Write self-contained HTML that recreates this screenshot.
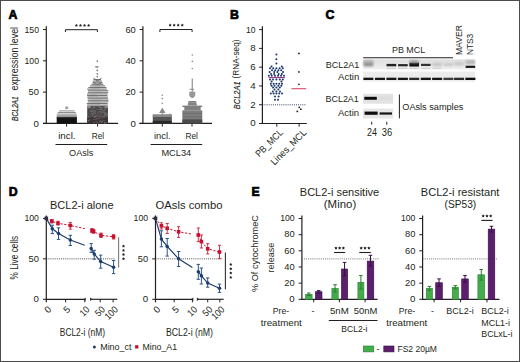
<!DOCTYPE html><html><head><meta charset="utf-8"><style>html,body{margin:0;padding:0;background:#fff;}svg{display:block;}text{font-family:"Liberation Sans", sans-serif;fill:#231f20;}</style></head><body>
<svg width="520" height="362" viewBox="0 0 520 362">
<defs><filter id="bl" x="-20%" y="-100%" width="140%" height="300%"><feGaussianBlur stdDeviation="0.55"/></filter><filter id="bl2" x="-30%" y="-100%" width="160%" height="300%"><feGaussianBlur stdDeviation="1.1"/></filter><filter id="bl3" x="-5%" y="-5%" width="110%" height="110%"><feGaussianBlur stdDeviation="0.35"/></filter></defs>
<rect x="0.00" y="0.00" width="520.00" height="362.00" fill="#fff" />
<text x="8.6" y="18.8" font-size="12.3" font-weight="bold" fill="#000" stroke="#000" stroke-width="0.7" style="fill:#000">A</text>
<text x="230.0" y="18.8" font-size="12.3" font-weight="bold" fill="#000" stroke="#000" stroke-width="0.7" style="fill:#000">B</text>
<text x="325.6" y="18.8" font-size="12.3" font-weight="bold" fill="#000" stroke="#000" stroke-width="0.7" style="fill:#000">C</text>
<text x="8.7" y="195.5" font-size="12.3" font-weight="bold" fill="#000" stroke="#000" stroke-width="0.7" style="fill:#000">D</text>
<text x="251.6" y="195.7" font-size="12.3" font-weight="bold" fill="#000" stroke="#000" stroke-width="0.7" style="fill:#000">E</text>
<line x1="46.3" y1="26.2" x2="46.3" y2="123.9" stroke="#231f20" stroke-width="1.2" />
<line x1="43.0" y1="29.5" x2="46.3" y2="29.5" stroke="#231f20" stroke-width="1" />
<text x="39.0" y="32.60" font-size="9.8" text-anchor="end" textLength="14.50" lengthAdjust="spacingAndGlyphs">150</text>
<line x1="43.0" y1="60.800000000000004" x2="46.3" y2="60.800000000000004" stroke="#231f20" stroke-width="1" />
<text x="39.0" y="63.90" font-size="9.8" text-anchor="end" textLength="14.50" lengthAdjust="spacingAndGlyphs">100</text>
<line x1="43.0" y1="92.10000000000001" x2="46.3" y2="92.10000000000001" stroke="#231f20" stroke-width="1" />
<text x="39.0" y="95.20" font-size="9.8" text-anchor="end" textLength="10.40" lengthAdjust="spacingAndGlyphs">50</text>
<line x1="43.0" y1="123.4" x2="46.3" y2="123.4" stroke="#231f20" stroke-width="1" />
<text x="39.0" y="126.50" font-size="9.8" text-anchor="end" textLength="5.40" lengthAdjust="spacingAndGlyphs">0</text>
<line x1="43.0" y1="123.4" x2="118.1" y2="123.4" stroke="#231f20" stroke-width="1.15" />
<line x1="66.6" y1="123.4" x2="66.6" y2="126.6" stroke="#231f20" stroke-width="1" />
<line x1="97.6" y1="123.4" x2="97.6" y2="126.6" stroke="#231f20" stroke-width="1" />
<text x="66.9" y="138.7" font-size="8.9" text-anchor="middle" textLength="17.4" lengthAdjust="spacingAndGlyphs" >incl.</text>
<text x="97.9" y="138.7" font-size="8.9" text-anchor="middle" textLength="12.4" lengthAdjust="spacingAndGlyphs" >Rel</text>
<line x1="55.5" y1="144.5" x2="107.2" y2="144.5" stroke="#231f20" stroke-width="1" />
<text x="81.2" y="155.7" font-size="9.3" text-anchor="middle" textLength="24.2" lengthAdjust="spacingAndGlyphs" >OAsls</text>
<path d="M65.4,32 V29.7 H97.4 V32" fill="none" stroke="#231f20" stroke-width="1"/>
<polygon points="76.35,23.80 76.87,24.69 77.87,24.91 77.19,25.67 77.29,26.69 76.35,26.28 75.41,26.69 75.51,25.67 74.83,24.91 75.83,24.69" fill="#231f20"/>
<polygon points="80.45,23.80 80.97,24.69 81.97,24.91 81.29,25.67 81.39,26.69 80.45,26.28 79.51,26.69 79.61,25.67 78.93,24.91 79.93,24.69" fill="#231f20"/>
<polygon points="84.55,23.80 85.07,24.69 86.07,24.91 85.39,25.67 85.49,26.69 84.55,26.28 83.61,26.69 83.71,25.67 83.03,24.91 84.03,24.69" fill="#231f20"/>
<polygon points="88.65,23.80 89.17,24.69 90.17,24.91 89.49,25.67 89.59,26.69 88.65,26.28 87.71,26.69 87.81,25.67 87.13,24.91 88.13,24.69" fill="#231f20"/>
<text transform="translate(18.0,120.9) rotate(-90)" font-size="9.4" font-style="italic" textLength="24.6" lengthAdjust="spacingAndGlyphs" stroke="#231f20" stroke-width="0.18">BCL2A1</text>
<text transform="translate(17.9,90.5) rotate(-90)" font-size="10" textLength="63.6" lengthAdjust="spacingAndGlyphs">expression level</text>
<rect x="56.70" y="116.60" width="20.20" height="6.70" fill="#121212" />
<rect x="56.70" y="117.60" width="20.20" height="0.50" fill="#555" />
<rect x="56.70" y="115.20" width="20.20" height="1.00" fill="#8c8c8c" />
<rect x="56.90" y="113.60" width="19.80" height="1.00" fill="#8c8c8c" />
<rect x="57.80" y="112.00" width="18.00" height="1.00" fill="#8c8c8c" />
<rect x="59.00" y="110.40" width="15.60" height="1.00" fill="#8c8c8c" />
<ellipse cx="66.7" cy="107.8" rx="1.7" ry="1.5" fill="#a0a0a0"/>
<rect x="87.20" y="106.00" width="20.80" height="17.30" fill="#4c484a" />
<rect x="87.20" y="117.50" width="20.80" height="5.80" fill="#3e3339" />
<rect x="92.11" y="115.28" width="1.30" height="0.60" fill="#808080" />
<rect x="94.73" y="116.26" width="1.30" height="0.60" fill="#808080" />
<rect x="99.79" y="107.38" width="1.30" height="0.60" fill="#808080" />
<rect x="87.66" y="120.12" width="1.30" height="0.60" fill="#808080" />
<rect x="92.54" y="110.17" width="1.30" height="0.60" fill="#808080" />
<rect x="107.11" y="114.06" width="1.30" height="0.60" fill="#808080" />
<rect x="103.96" y="114.16" width="1.30" height="0.60" fill="#808080" />
<rect x="100.05" y="108.79" width="1.30" height="0.60" fill="#808080" />
<rect x="99.97" y="120.62" width="1.30" height="0.60" fill="#808080" />
<rect x="97.76" y="118.53" width="1.30" height="0.60" fill="#808080" />
<rect x="100.69" y="107.36" width="1.30" height="0.60" fill="#808080" />
<rect x="102.41" y="116.05" width="1.30" height="0.60" fill="#808080" />
<rect x="93.37" y="106.81" width="1.30" height="0.60" fill="#808080" />
<rect x="104.54" y="114.10" width="1.30" height="0.60" fill="#808080" />
<rect x="101.63" y="120.80" width="1.30" height="0.60" fill="#808080" />
<rect x="101.54" y="121.50" width="1.30" height="0.60" fill="#808080" />
<rect x="95.22" y="119.51" width="1.30" height="0.60" fill="#808080" />
<rect x="96.20" y="121.74" width="1.30" height="0.60" fill="#808080" />
<rect x="104.80" y="107.91" width="1.30" height="0.60" fill="#808080" />
<rect x="90.09" y="109.88" width="1.30" height="0.60" fill="#808080" />
<rect x="106.52" y="113.50" width="1.30" height="0.60" fill="#808080" />
<rect x="99.81" y="111.27" width="1.30" height="0.60" fill="#808080" />
<rect x="97.44" y="112.67" width="1.30" height="0.60" fill="#808080" />
<rect x="94.35" y="115.95" width="1.30" height="0.60" fill="#808080" />
<rect x="98.97" y="121.22" width="1.30" height="0.60" fill="#808080" />
<rect x="100.90" y="121.63" width="1.30" height="0.60" fill="#808080" />
<rect x="104.36" y="122.65" width="1.30" height="0.60" fill="#808080" />
<rect x="100.69" y="108.99" width="1.30" height="0.60" fill="#808080" />
<rect x="104.44" y="122.22" width="1.30" height="0.60" fill="#808080" />
<rect x="105.31" y="115.69" width="1.30" height="0.60" fill="#808080" />
<rect x="101.53" y="109.78" width="1.30" height="0.60" fill="#808080" />
<rect x="103.87" y="115.76" width="1.30" height="0.60" fill="#808080" />
<rect x="93.04" y="107.35" width="1.30" height="0.60" fill="#808080" />
<rect x="104.31" y="122.63" width="1.30" height="0.60" fill="#808080" />
<rect x="89.15" y="119.51" width="1.30" height="0.60" fill="#808080" />
<rect x="95.53" y="108.79" width="1.30" height="0.60" fill="#808080" />
<rect x="93.22" y="118.99" width="1.30" height="0.60" fill="#808080" />
<rect x="104.68" y="107.03" width="1.30" height="0.60" fill="#808080" />
<rect x="99.57" y="107.04" width="1.30" height="0.60" fill="#808080" />
<rect x="101.63" y="111.76" width="1.30" height="0.60" fill="#808080" />
<rect x="104.84" y="122.48" width="1.30" height="0.60" fill="#808080" />
<rect x="97.41" y="122.78" width="1.30" height="0.60" fill="#808080" />
<rect x="93.53" y="107.57" width="1.30" height="0.60" fill="#808080" />
<rect x="99.28" y="106.82" width="1.30" height="0.60" fill="#808080" />
<rect x="91.31" y="113.03" width="1.30" height="0.60" fill="#808080" />
<rect x="99.49" y="108.88" width="1.30" height="0.60" fill="#808080" />
<rect x="88.24" y="120.62" width="1.30" height="0.60" fill="#808080" />
<rect x="93.61" y="122.12" width="1.30" height="0.60" fill="#808080" />
<rect x="105.15" y="112.53" width="1.30" height="0.60" fill="#808080" />
<rect x="96.52" y="114.88" width="1.30" height="0.60" fill="#808080" />
<rect x="100.15" y="116.13" width="1.30" height="0.60" fill="#808080" />
<rect x="98.47" y="116.53" width="1.30" height="0.60" fill="#808080" />
<rect x="106.02" y="114.67" width="1.30" height="0.60" fill="#808080" />
<rect x="95.94" y="118.19" width="1.30" height="0.60" fill="#808080" />
<rect x="92.11" y="111.27" width="1.30" height="0.60" fill="#808080" />
<rect x="106.76" y="114.90" width="1.30" height="0.60" fill="#808080" />
<rect x="98.26" y="106.49" width="1.30" height="0.60" fill="#808080" />
<rect x="95.62" y="115.87" width="1.30" height="0.60" fill="#808080" />
<rect x="87.80" y="116.46" width="1.30" height="0.60" fill="#808080" />
<rect x="99.92" y="107.29" width="1.30" height="0.60" fill="#808080" />
<rect x="99.82" y="113.99" width="1.30" height="0.60" fill="#808080" />
<rect x="100.85" y="112.12" width="1.30" height="0.60" fill="#808080" />
<rect x="101.40" y="118.48" width="1.30" height="0.60" fill="#808080" />
<rect x="87.84" y="107.30" width="1.30" height="0.60" fill="#808080" />
<rect x="100.79" y="122.19" width="1.30" height="0.60" fill="#808080" />
<rect x="92.37" y="113.83" width="1.30" height="0.60" fill="#808080" />
<rect x="99.13" y="111.58" width="1.30" height="0.60" fill="#808080" />
<rect x="94.61" y="111.46" width="1.30" height="0.60" fill="#808080" />
<rect x="94.71" y="116.13" width="1.30" height="0.60" fill="#808080" />
<rect x="93.35" y="112.52" width="1.30" height="0.60" fill="#808080" />
<rect x="102.69" y="106.74" width="1.30" height="0.60" fill="#808080" />
<rect x="98.67" y="118.43" width="1.30" height="0.60" fill="#808080" />
<rect x="93.54" y="109.97" width="1.30" height="0.60" fill="#808080" />
<rect x="103.32" y="110.24" width="1.30" height="0.60" fill="#808080" />
<rect x="91.11" y="113.48" width="1.30" height="0.60" fill="#808080" />
<rect x="101.22" y="107.98" width="1.30" height="0.60" fill="#808080" />
<rect x="93.77" y="111.81" width="1.30" height="0.60" fill="#808080" />
<rect x="103.90" y="113.53" width="1.30" height="0.60" fill="#808080" />
<rect x="104.34" y="109.09" width="1.30" height="0.60" fill="#808080" />
<rect x="94.07" y="117.03" width="1.30" height="0.60" fill="#808080" />
<rect x="104.92" y="113.74" width="1.30" height="0.60" fill="#808080" />
<rect x="91.86" y="108.30" width="1.30" height="0.60" fill="#808080" />
<rect x="97.89" y="109.45" width="1.30" height="0.60" fill="#808080" />
<rect x="103.37" y="120.13" width="1.30" height="0.60" fill="#808080" />
<rect x="91.04" y="110.90" width="1.30" height="0.60" fill="#808080" />
<rect x="103.38" y="116.89" width="1.30" height="0.60" fill="#808080" />
<rect x="103.36" y="112.00" width="1.30" height="0.60" fill="#808080" />
<rect x="89.97" y="111.12" width="1.30" height="0.60" fill="#808080" />
<rect x="103.12" y="110.77" width="1.30" height="0.60" fill="#808080" />
<rect x="94.26" y="113.18" width="1.30" height="0.60" fill="#808080" />
<rect x="87.20" y="106.00" width="3.50" height="2.20" fill="#8a8a8a" />
<rect x="104.50" y="106.00" width="3.50" height="2.20" fill="#8a8a8a" />
<rect x="87.10" y="104.60" width="20.80" height="1.05" fill="#727272" />
<rect x="89.33" y="105.65" width="11.98" height="0.50" fill="#a0a0a0" />
<rect x="86.79" y="103.00" width="20.80" height="1.05" fill="#727272" />
<rect x="87.80" y="104.05" width="12.13" height="0.50" fill="#a0a0a0" />
<rect x="87.76" y="101.40" width="20.60" height="1.05" fill="#727272" />
<rect x="91.72" y="102.45" width="8.86" height="0.50" fill="#a0a0a0" />
<rect x="87.74" y="99.80" width="20.80" height="1.05" fill="#727272" />
<rect x="91.52" y="100.85" width="7.63" height="0.50" fill="#a0a0a0" />
<rect x="87.69" y="98.20" width="20.40" height="1.05" fill="#727272" />
<rect x="91.20" y="99.25" width="10.18" height="0.50" fill="#a0a0a0" />
<rect x="87.32" y="96.60" width="20.60" height="1.05" fill="#727272" />
<rect x="89.19" y="97.65" width="8.29" height="0.50" fill="#a0a0a0" />
<rect x="87.07" y="95.00" width="20.40" height="1.05" fill="#727272" />
<rect x="88.28" y="96.05" width="9.72" height="0.50" fill="#a0a0a0" />
<rect x="87.04" y="93.40" width="20.60" height="1.05" fill="#727272" />
<rect x="90.47" y="94.45" width="6.46" height="0.50" fill="#a0a0a0" />
<rect x="87.98" y="91.80" width="20.20" height="1.05" fill="#727272" />
<rect x="91.07" y="92.85" width="11.66" height="0.50" fill="#a0a0a0" />
<rect x="87.88" y="90.20" width="20.40" height="1.05" fill="#727272" />
<rect x="91.57" y="91.25" width="9.65" height="0.50" fill="#a0a0a0" />
<rect x="87.22" y="88.60" width="19.60" height="1.05" fill="#727272" />
<rect x="90.45" y="89.65" width="6.89" height="0.50" fill="#a0a0a0" />
<rect x="88.36" y="87.00" width="18.00" height="1.05" fill="#727272" />
<rect x="91.35" y="88.05" width="8.23" height="0.50" fill="#a0a0a0" />
<rect x="90.00" y="85.40" width="15.00" height="1.05" fill="#727272" />
<rect x="93.81" y="86.45" width="7.25" height="0.50" fill="#a0a0a0" />
<rect x="91.41" y="83.80" width="12.00" height="1.05" fill="#727272" />
<rect x="93.17" y="84.85" width="6.70" height="0.50" fill="#a0a0a0" />
<rect x="92.57" y="82.20" width="10.00" height="1.05" fill="#727272" />
<rect x="95.92" y="83.25" width="4.06" height="0.50" fill="#a0a0a0" />
<rect x="92.74" y="80.60" width="9.00" height="1.05" fill="#727272" />
<rect x="95.34" y="81.65" width="4.91" height="0.50" fill="#a0a0a0" />
<rect x="93.46" y="79.00" width="7.50" height="1.05" fill="#727272" />
<rect x="96.83" y="80.05" width="4.32" height="0.50" fill="#a0a0a0" />
<path d="M93.5,78.2 L97.3,81 L101.5,78.2" fill="none" stroke="#6a6a6a" stroke-width="1"/>
<path d="M93,82.5 L97.3,84.8 L102,82.5" fill="none" stroke="#6a6a6a" stroke-width="1"/>
<circle cx="97.3" cy="61.1" r="0.85" fill="#777"/>
<circle cx="97.3" cy="70.4" r="0.85" fill="#777"/>
<circle cx="97.3" cy="73.8" r="0.85" fill="#777"/>
<circle cx="97.3" cy="76.6" r="0.85" fill="#777"/>
<ellipse cx="96.9" cy="66.8" rx="2" ry="0.9" fill="#888"/>
<line x1="142.9" y1="26.2" x2="142.9" y2="123.9" stroke="#231f20" stroke-width="1.2" />
<line x1="139.6" y1="29.5" x2="142.9" y2="29.5" stroke="#231f20" stroke-width="1" />
<text x="135.79999999999998" y="32.60" font-size="9.8" text-anchor="end" textLength="10.40" lengthAdjust="spacingAndGlyphs">60</text>
<line x1="139.6" y1="60.800000000000004" x2="142.9" y2="60.800000000000004" stroke="#231f20" stroke-width="1" />
<text x="135.79999999999998" y="63.90" font-size="9.8" text-anchor="end" textLength="10.40" lengthAdjust="spacingAndGlyphs">40</text>
<line x1="139.6" y1="92.10000000000001" x2="142.9" y2="92.10000000000001" stroke="#231f20" stroke-width="1" />
<text x="135.79999999999998" y="95.20" font-size="9.8" text-anchor="end" textLength="10.40" lengthAdjust="spacingAndGlyphs">20</text>
<line x1="139.6" y1="123.4" x2="142.9" y2="123.4" stroke="#231f20" stroke-width="1" />
<text x="135.79999999999998" y="126.50" font-size="9.8" text-anchor="end" textLength="5.40" lengthAdjust="spacingAndGlyphs">0</text>
<line x1="139.4" y1="123.4" x2="212" y2="123.4" stroke="#231f20" stroke-width="1.15" />
<line x1="162.3" y1="123.4" x2="162.3" y2="126.6" stroke="#231f20" stroke-width="1" />
<line x1="192.0" y1="123.4" x2="192.0" y2="126.6" stroke="#231f20" stroke-width="1" />
<text x="162.3" y="138.7" font-size="8.9" text-anchor="middle" textLength="16.8" lengthAdjust="spacingAndGlyphs" >incl.</text>
<text x="191.7" y="138.7" font-size="8.9" text-anchor="middle" textLength="12.4" lengthAdjust="spacingAndGlyphs" >Rel</text>
<line x1="150.6" y1="144.5" x2="202.2" y2="144.5" stroke="#231f20" stroke-width="1" />
<text x="176.3" y="155.7" font-size="9.3" text-anchor="middle" textLength="29.8" lengthAdjust="spacingAndGlyphs" >MCL34</text>
<path d="M159.9,32 V29.5 H192.1 V32" fill="none" stroke="#231f20" stroke-width="1"/>
<polygon points="170.12,23.60 170.64,24.49 171.65,24.71 170.96,25.47 171.07,26.49 170.12,26.08 169.18,26.49 169.29,25.47 168.60,24.71 169.61,24.49" fill="#231f20"/>
<polygon points="174.18,23.60 174.69,24.49 175.70,24.71 175.01,25.47 175.12,26.49 174.18,26.08 173.23,26.49 173.34,25.47 172.65,24.71 173.66,24.49" fill="#231f20"/>
<polygon points="178.22,23.60 178.74,24.49 179.75,24.71 179.06,25.47 179.17,26.49 178.22,26.08 177.28,26.49 177.39,25.47 176.70,24.71 177.71,24.49" fill="#231f20"/>
<polygon points="182.28,23.60 182.79,24.49 183.80,24.71 183.11,25.47 183.22,26.49 182.28,26.08 181.33,26.49 181.44,25.47 180.75,24.71 181.76,24.49" fill="#231f20"/>
<rect x="152.80" y="114.60" width="19.00" height="8.70" fill="#555" />
<rect x="152.80" y="114.60" width="19.00" height="2.40" fill="#8a8a8a" />
<rect x="152.80" y="120.80" width="19.00" height="2.50" fill="#2a2a2a" />
<polygon points="159.2,113 165.5,113 162.3,107.4" fill="#8a8a8a"/>
<rect x="161.80" y="113.00" width="1.00" height="2.00" fill="#888" />
<circle cx="162.2" cy="95.2" r="0.8" fill="#888"/>
<circle cx="162.2" cy="98.6" r="0.8" fill="#888"/>
<circle cx="162.2" cy="103.3" r="0.8" fill="#888"/>
<circle cx="169.9" cy="114.2" r="0.7" fill="#888"/>
<rect x="182.40" y="110.40" width="19.80" height="12.90" fill="#6e6e6e" />
<rect x="182.40" y="119.50" width="19.80" height="3.80" fill="#4a4a4a" />
<rect x="182.40" y="111.20" width="19.80" height="0.50" fill="#8c8c8c" />
<rect x="182.40" y="112.60" width="19.80" height="0.50" fill="#8c8c8c" />
<rect x="182.40" y="114.00" width="19.80" height="0.50" fill="#8c8c8c" />
<rect x="182.40" y="115.40" width="19.80" height="0.50" fill="#8c8c8c" />
<rect x="182.40" y="116.80" width="19.80" height="0.50" fill="#8c8c8c" />
<rect x="182.40" y="118.20" width="19.80" height="0.50" fill="#8c8c8c" />
<rect x="182.40" y="105.60" width="19.80" height="1.40" fill="#7c7c7c" />
<path d="M184.3,107 H200.7 V110.4 H184.3 Z" fill="#808080"/>
<path d="M188.5,101.1 H196 L197,105.6 H187.6 Z" fill="#828282"/>
<rect x="188.50" y="102.60" width="8.00" height="0.50" fill="#aaa" />
<path d="M189.3,91.8 H195.2 V95.8 Q192.3,100.2 189.3,95.8 Z" fill="#909090"/>
<rect x="189.30" y="93.60" width="5.90" height="0.50" fill="#b0b0b0" />
<rect x="189.30" y="95.60" width="5.90" height="0.50" fill="#b0b0b0" />
<rect x="189.60" y="88.80" width="4.40" height="1.00" fill="#8a8a8a" />
<rect x="191.70" y="80.00" width="1.10" height="11.80" fill="#8a8a8a" />
<circle cx="192.3" cy="55" r="0.8" fill="#888"/>
<circle cx="192.3" cy="61.4" r="0.8" fill="#888"/>
<circle cx="192.3" cy="68.5" r="0.8" fill="#888"/>
<circle cx="192.3" cy="79.2" r="0.8" fill="#888"/>
<line x1="262.4" y1="26.2" x2="262.4" y2="124.0" stroke="#231f20" stroke-width="1.2" />
<line x1="259.09999999999997" y1="29.599999999999994" x2="262.4" y2="29.599999999999994" stroke="#231f20" stroke-width="1" />
<text x="255.6" y="32.50" font-size="8.6" text-anchor="end" textLength="9.50" lengthAdjust="spacingAndGlyphs">10</text>
<line x1="259.09999999999997" y1="48.379999999999995" x2="262.4" y2="48.379999999999995" stroke="#231f20" stroke-width="1" />
<text x="255.6" y="51.28" font-size="8.6" text-anchor="end" textLength="5.40" lengthAdjust="spacingAndGlyphs">8</text>
<line x1="259.09999999999997" y1="67.16" x2="262.4" y2="67.16" stroke="#231f20" stroke-width="1" />
<text x="255.6" y="70.06" font-size="8.6" text-anchor="end" textLength="5.40" lengthAdjust="spacingAndGlyphs">6</text>
<line x1="259.09999999999997" y1="85.94" x2="262.4" y2="85.94" stroke="#231f20" stroke-width="1" />
<text x="255.6" y="88.84" font-size="8.6" text-anchor="end" textLength="5.40" lengthAdjust="spacingAndGlyphs">4</text>
<line x1="259.09999999999997" y1="104.72" x2="262.4" y2="104.72" stroke="#231f20" stroke-width="1" />
<text x="255.6" y="107.62" font-size="8.6" text-anchor="end" textLength="5.40" lengthAdjust="spacingAndGlyphs">2</text>
<line x1="259.09999999999997" y1="123.5" x2="262.4" y2="123.5" stroke="#231f20" stroke-width="1" />
<text x="255.6" y="126.40" font-size="8.6" text-anchor="end" textLength="5.40" lengthAdjust="spacingAndGlyphs">0</text>
<line x1="261.9" y1="123.5" x2="306.8" y2="123.5" stroke="#231f20" stroke-width="1.15" />
<line x1="276.8" y1="123.5" x2="276.8" y2="126.7" stroke="#231f20" stroke-width="1" />
<line x1="299.1" y1="123.5" x2="299.1" y2="126.7" stroke="#231f20" stroke-width="1" />
<line x1="262.4" y1="104.8" x2="306" y2="104.8" stroke="#2a3550" stroke-width="0.9" stroke-dasharray="1 1.1"/>
<text transform="translate(240.3,109.2) rotate(-90)" font-size="9.4" font-style="italic" textLength="27.8" lengthAdjust="spacingAndGlyphs" stroke="#231f20" stroke-width="0.15">BCL2A1</text>
<text transform="translate(239.4,78.4) rotate(-90)" font-size="9.0" textLength="38.9" lengthAdjust="spacingAndGlyphs">(RNA-seq)</text>
<text transform="translate(283.6,133.2) rotate(-45)" font-size="9.6" text-anchor="end" textLength="34.5" lengthAdjust="spacingAndGlyphs">PB_MCL</text>
<text transform="translate(307.0,133.2) rotate(-45)" font-size="9.6" text-anchor="end" textLength="46" lengthAdjust="spacingAndGlyphs">Lines_MCL</text>
<circle cx="276.4" cy="54.5" r="1.0" fill="#17346e"/>
<circle cx="276.4" cy="59.2" r="1.0" fill="#17346e"/>
<circle cx="276.4" cy="63.6" r="1.0" fill="#17346e"/>
<circle cx="271.5" cy="66.6" r="1.0" fill="#17346e"/>
<circle cx="281.8" cy="66.6" r="1.0" fill="#17346e"/>
<circle cx="270.0" cy="68.3" r="1.0" fill="#17346e"/>
<circle cx="273.2" cy="68.3" r="1.0" fill="#17346e"/>
<circle cx="276.4" cy="68.3" r="1.0" fill="#17346e"/>
<circle cx="279.6" cy="68.3" r="1.0" fill="#17346e"/>
<circle cx="282.8" cy="68.3" r="1.0" fill="#17346e"/>
<circle cx="272.0" cy="70.2" r="1.0" fill="#17346e"/>
<circle cx="275.2" cy="70.2" r="1.0" fill="#17346e"/>
<circle cx="278.4" cy="70.2" r="1.0" fill="#17346e"/>
<circle cx="281.2" cy="70.2" r="1.0" fill="#17346e"/>
<circle cx="269.6" cy="72.0" r="1.0" fill="#17346e"/>
<circle cx="274.2" cy="72.0" r="1.0" fill="#17346e"/>
<circle cx="277.4" cy="72.0" r="1.0" fill="#17346e"/>
<circle cx="283.0" cy="72.0" r="1.0" fill="#17346e"/>
<circle cx="271.0" cy="73.9" r="1.0" fill="#17346e"/>
<circle cx="274.2" cy="73.9" r="1.0" fill="#17346e"/>
<circle cx="278.6" cy="73.9" r="1.0" fill="#17346e"/>
<circle cx="281.8" cy="73.9" r="1.0" fill="#17346e"/>
<circle cx="268.8" cy="75.8" r="1.0" fill="#17346e"/>
<circle cx="271.8" cy="75.8" r="1.0" fill="#17346e"/>
<circle cx="275.0" cy="75.8" r="1.0" fill="#17346e"/>
<circle cx="278.0" cy="75.8" r="1.0" fill="#17346e"/>
<circle cx="281.0" cy="75.8" r="1.0" fill="#17346e"/>
<circle cx="284.0" cy="75.8" r="1.0" fill="#17346e"/>
<circle cx="270.0" cy="79.4" r="1.0" fill="#17346e"/>
<circle cx="273.0" cy="79.4" r="1.0" fill="#17346e"/>
<circle cx="276.4" cy="79.4" r="1.0" fill="#17346e"/>
<circle cx="279.8" cy="79.4" r="1.0" fill="#17346e"/>
<circle cx="282.8" cy="79.4" r="1.0" fill="#17346e"/>
<circle cx="271.6" cy="81.4" r="1.0" fill="#17346e"/>
<circle cx="281.4" cy="81.4" r="1.0" fill="#17346e"/>
<circle cx="270.8" cy="83.8" r="1.0" fill="#17346e"/>
<circle cx="273.6" cy="83.8" r="1.0" fill="#17346e"/>
<circle cx="276.4" cy="83.8" r="1.0" fill="#17346e"/>
<circle cx="279.2" cy="83.8" r="1.0" fill="#17346e"/>
<circle cx="282.0" cy="83.8" r="1.0" fill="#17346e"/>
<circle cx="271.5" cy="85.8" r="1.0" fill="#17346e"/>
<circle cx="274.5" cy="85.8" r="1.0" fill="#17346e"/>
<circle cx="278.3" cy="85.8" r="1.0" fill="#17346e"/>
<circle cx="281.3" cy="85.8" r="1.0" fill="#17346e"/>
<circle cx="273.0" cy="87.6" r="1.0" fill="#17346e"/>
<circle cx="276.4" cy="87.6" r="1.0" fill="#17346e"/>
<circle cx="279.8" cy="87.6" r="1.0" fill="#17346e"/>
<circle cx="274.5" cy="89.4" r="1.0" fill="#17346e"/>
<circle cx="278.3" cy="89.4" r="1.0" fill="#17346e"/>
<circle cx="272.8" cy="91.4" r="1.0" fill="#17346e"/>
<circle cx="276.4" cy="91.4" r="1.0" fill="#17346e"/>
<circle cx="280.0" cy="91.4" r="1.0" fill="#17346e"/>
<circle cx="270.8" cy="93.6" r="1.0" fill="#17346e"/>
<circle cx="273.6" cy="93.6" r="1.0" fill="#17346e"/>
<circle cx="276.4" cy="93.6" r="1.0" fill="#17346e"/>
<circle cx="279.2" cy="93.6" r="1.0" fill="#17346e"/>
<circle cx="282.0" cy="93.6" r="1.0" fill="#17346e"/>
<circle cx="275.0" cy="96.4" r="1.0" fill="#17346e"/>
<circle cx="278.6" cy="96.4" r="1.0" fill="#17346e"/>
<circle cx="275.0" cy="99.7" r="1.0" fill="#17346e"/>
<circle cx="278.0" cy="99.7" r="1.0" fill="#17346e"/>
<line x1="268.6" y1="77.6" x2="284.8" y2="77.6" stroke="#a0307a" stroke-width="1.1" />
<line x1="291.4" y1="88.7" x2="306.2" y2="88.7" stroke="#d84c6c" stroke-width="1.1" />
<circle cx="298.9" cy="53.4" r="0.9" fill="#222"/>
<circle cx="298.9" cy="71.9" r="0.9" fill="#222"/>
<circle cx="298.9" cy="84.3" r="0.9" fill="#222"/>
<circle cx="299.2" cy="107.3" r="0.9" fill="#222"/>
<circle cx="300.9" cy="109.2" r="0.9" fill="#222"/>
<circle cx="297.3" cy="111.4" r="0.9" fill="#222"/>
<text x="392.0" y="52.6" font-size="9.9" textLength="33.2" lengthAdjust="spacingAndGlyphs" >PB MCL</text>
<line x1="363.2" y1="57.8" x2="453" y2="57.8" stroke="#231f20" stroke-width="1.1" />
<text transform="translate(461.6,55.1) rotate(-90)" font-size="9.5" textLength="30.1" lengthAdjust="spacingAndGlyphs">MAVER</text>
<text transform="translate(473.2,55.1) rotate(-90)" font-size="9.5" textLength="21.3" lengthAdjust="spacingAndGlyphs">NTS3</text>
<text x="325.7" y="67.7" font-size="9.5" textLength="33.6" lengthAdjust="spacingAndGlyphs" >BCL2A1</text>
<text x="338.0" y="79.6" font-size="9.3" textLength="21.3" lengthAdjust="spacingAndGlyphs" >Actin</text>
<linearGradient id="g1" x1="0" y1="0" x2="0" y2="1"><stop offset="0" stop-color="#dedede"/><stop offset="0.6" stop-color="#e8e8e8"/><stop offset="1" stop-color="#f1f1f1"/></linearGradient>
<rect x="363.2" y="59.4" width="111.8" height="10.2" fill="url(#g1)" filter="url(#bl3)"/>
<rect x="363.2" y="71.6" width="111.8" height="10.0" fill="#ececec" filter="url(#bl3)"/>
<rect x="363.6" y="61.7" width="9.6" height="4.6" fill="#8e8e8e" filter="url(#bl2)"/>
<rect x="386.6" y="63.89999999999999" width="9.6" height="2.4" fill="#202020" filter="url(#bl)"/>
<rect x="398.1" y="64.10000000000001" width="9.6" height="2.2" fill="#262626" filter="url(#bl)"/>
<rect x="409.40000000000003" y="62.699999999999996" width="9.6" height="3.8" fill="#080808" filter="url(#bl)"/>
<rect x="421.0" y="63.800000000000004" width="9.6" height="2.2" fill="#303030" filter="url(#bl)"/>
<rect x="432.3" y="62.900000000000006" width="9.6" height="3.0" fill="#c2c2c2" filter="url(#bl2)"/>
<rect x="443.6" y="63.199999999999996" width="9.6" height="2.8" fill="#c8c8c8" filter="url(#bl2)"/>
<rect x="454.3" y="62.0" width="9.6" height="3.6" fill="#c9c9c9" filter="url(#bl2)"/>
<rect x="465.6" y="65.7" width="9.6" height="2.2" fill="#151515" filter="url(#bl)"/>
<rect x="409.6" y="60.6" width="9.2" height="2.6" fill="#8a8a8a" filter="url(#bl2)"/>
<rect x="465.8" y="60.4" width="9.2" height="3.6" fill="#b4b4b4" filter="url(#bl2)"/>
<rect x="363.8" y="60.4" width="9.2" height="2.4" fill="#b0b0b0" filter="url(#bl2)"/>
<rect x="386.8" y="67.6" width="9" height="1.4" fill="#d4d4d4" filter="url(#bl)"/>
<rect x="398.3" y="67.6" width="9" height="1.4" fill="#d4d4d4" filter="url(#bl)"/>
<rect x="409.6" y="67.6" width="9" height="1.4" fill="#d4d4d4" filter="url(#bl)"/>
<rect x="421.2" y="67.6" width="9" height="1.4" fill="#d4d4d4" filter="url(#bl)"/>
<rect x="432.5" y="67.6" width="9" height="1.4" fill="#d4d4d4" filter="url(#bl)"/>
<rect x="363.40000000000003" y="77.7" width="10.0" height="2.3" fill="#121212" filter="url(#bl)"/>
<rect x="375.0" y="77.7" width="10.0" height="2.3" fill="#161616" filter="url(#bl)"/>
<rect x="386.40000000000003" y="77.7" width="10.0" height="2.3" fill="#121212" filter="url(#bl)"/>
<rect x="397.90000000000003" y="77.7" width="10.0" height="2.3" fill="#161616" filter="url(#bl)"/>
<rect x="409.20000000000005" y="77.7" width="10.0" height="2.3" fill="#2c2c2c" filter="url(#bl)"/>
<rect x="420.8" y="77.7" width="10.0" height="2.3" fill="#121212" filter="url(#bl)"/>
<rect x="432.1" y="77.7" width="10.0" height="2.3" fill="#161616" filter="url(#bl)"/>
<rect x="443.40000000000003" y="77.7" width="10.0" height="2.3" fill="#3c3c3c" filter="url(#bl)"/>
<rect x="454.1" y="77.7" width="10.0" height="2.3" fill="#2a2a2a" filter="url(#bl)"/>
<rect x="465.40000000000003" y="77.7" width="10.0" height="2.3" fill="#0a0a0a" filter="url(#bl)"/>
<text x="325.5" y="101.8" font-size="9.5" textLength="33.3" lengthAdjust="spacingAndGlyphs" >BCL2A1</text>
<text x="337.9" y="115.7" font-size="9.3" textLength="21.2" lengthAdjust="spacingAndGlyphs" >Actin</text>
<rect x="363.0" y="93.8" width="30.2" height="9.9" fill="#e2e2e2" filter="url(#bl3)"/>
<rect x="363.0" y="108.6" width="30.2" height="9.9" fill="#e6e6e6" filter="url(#bl3)"/>
<rect x="364.3" y="96.8" width="12.5" height="3.0" fill="#0a0a0a" filter="url(#bl)"/>
<rect x="379" y="97" width="12.5" height="2.4" fill="#dadada" filter="url(#bl2)"/>
<rect x="364.6" y="111.6" width="13" height="3.2" fill="#0a0a0a" filter="url(#bl)"/>
<rect x="379.6" y="112.4" width="12.4" height="2.2" fill="#161616" filter="url(#bl)"/>
<line x1="371.7" y1="121.8" x2="371.7" y2="124.7" stroke="#231f20" stroke-width="1" />
<line x1="386.8" y1="121.8" x2="386.8" y2="124.7" stroke="#231f20" stroke-width="1" />
<text x="371.9" y="135.6" font-size="10.2" text-anchor="middle" textLength="10.0" lengthAdjust="spacingAndGlyphs" >24</text>
<text x="386.9" y="135.6" font-size="10.2" text-anchor="middle" textLength="10.4" lengthAdjust="spacingAndGlyphs" >36</text>
<line x1="399.4" y1="94.5" x2="399.4" y2="118.3" stroke="#231f20" stroke-width="1" />
<text x="402.3" y="109.6" font-size="9.6" textLength="61" lengthAdjust="spacingAndGlyphs" >OAsls samples</text>
<line x1="46.3" y1="215.4" x2="46.3" y2="302.3" stroke="#231f20" stroke-width="1.2" />
<line x1="43.0" y1="218.4" x2="46.3" y2="218.4" stroke="#231f20" stroke-width="1" />
<text x="38.9" y="221.40" font-size="9.8" text-anchor="end" textLength="14.50" lengthAdjust="spacingAndGlyphs">100</text>
<line x1="43.0" y1="258.85" x2="46.3" y2="258.85" stroke="#231f20" stroke-width="1" />
<text x="38.9" y="261.85" font-size="9.8" text-anchor="end" textLength="10.40" lengthAdjust="spacingAndGlyphs">50</text>
<line x1="43.0" y1="299.3" x2="46.3" y2="299.3" stroke="#231f20" stroke-width="1" />
<text x="38.9" y="302.30" font-size="9.8" text-anchor="end" textLength="5.40" lengthAdjust="spacingAndGlyphs">0</text>
<line x1="45.8" y1="299.3" x2="84.8" y2="299.3" stroke="#231f20" stroke-width="1.15" />
<line x1="90.6" y1="299.3" x2="117.3" y2="299.3" stroke="#231f20" stroke-width="1.15" />
<polygon points="83.5,299.3 85.7,297.6 85.7,301.0" fill="#231f20"/>
<polygon points="92.3,299.3 90.1,297.6 90.1,301.0" fill="#231f20"/>
<line x1="65.6" y1="299.3" x2="65.6" y2="302.3" stroke="#231f20" stroke-width="1" />
<line x1="84.8" y1="299.3" x2="84.8" y2="302.3" stroke="#231f20" stroke-width="1" />
<line x1="100.2" y1="299.3" x2="100.2" y2="302.3" stroke="#231f20" stroke-width="1" />
<line x1="113.1" y1="299.3" x2="113.1" y2="302.3" stroke="#231f20" stroke-width="1" />
<text x="50.0" y="208.6" font-size="10.2" textLength="63.6" lengthAdjust="spacingAndGlyphs" >BCL2-i alone</text>
<line x1="46.3" y1="258.85" x2="115.4" y2="258.85" stroke="#3a3a3a" stroke-width="0.9" stroke-dasharray="1 1.1"/>
<polyline points="46.3,218.4 51.8,221.2 58.0,223.2 70.3,225.5 84.8,228.6" fill="none" stroke="#c8102e" stroke-width="1" stroke-dasharray="2.2 1.6"/>
<polyline points="92.0,230.6 93.6,231.4 101.0,235.3 113.6,236.8" fill="none" stroke="#c8102e" stroke-width="1" stroke-dasharray="2.2 1.6"/>
<line x1="51.8" y1="219.5" x2="51.8" y2="223" stroke="#c8203a" stroke-width="0.9" />
<line x1="50.199999999999996" y1="219.5" x2="53.4" y2="219.5" stroke="#c8203a" stroke-width="0.9" />
<line x1="50.199999999999996" y1="223" x2="53.4" y2="223" stroke="#c8203a" stroke-width="0.9" />
<line x1="58.0" y1="221.3" x2="58.0" y2="225.1" stroke="#c8203a" stroke-width="0.9" />
<line x1="56.4" y1="221.3" x2="59.6" y2="221.3" stroke="#c8203a" stroke-width="0.9" />
<line x1="56.4" y1="225.1" x2="59.6" y2="225.1" stroke="#c8203a" stroke-width="0.9" />
<line x1="70.3" y1="222.4" x2="70.3" y2="229.2" stroke="#c8203a" stroke-width="0.9" />
<line x1="68.7" y1="222.4" x2="71.89999999999999" y2="222.4" stroke="#c8203a" stroke-width="0.9" />
<line x1="68.7" y1="229.2" x2="71.89999999999999" y2="229.2" stroke="#c8203a" stroke-width="0.9" />
<line x1="92.0" y1="228.6" x2="92.0" y2="232.6" stroke="#c8203a" stroke-width="0.9" />
<line x1="90.4" y1="228.6" x2="93.6" y2="228.6" stroke="#c8203a" stroke-width="0.9" />
<line x1="90.4" y1="232.6" x2="93.6" y2="232.6" stroke="#c8203a" stroke-width="0.9" />
<line x1="93.6" y1="229.4" x2="93.6" y2="233.2" stroke="#c8203a" stroke-width="0.9" />
<line x1="92.0" y1="229.4" x2="95.19999999999999" y2="229.4" stroke="#c8203a" stroke-width="0.9" />
<line x1="92.0" y1="233.2" x2="95.19999999999999" y2="233.2" stroke="#c8203a" stroke-width="0.9" />
<line x1="101.0" y1="233.1" x2="101.0" y2="237.5" stroke="#c8203a" stroke-width="0.9" />
<line x1="99.4" y1="233.1" x2="102.6" y2="233.1" stroke="#c8203a" stroke-width="0.9" />
<line x1="99.4" y1="237.5" x2="102.6" y2="237.5" stroke="#c8203a" stroke-width="0.9" />
<line x1="113.6" y1="234.7" x2="113.6" y2="239.0" stroke="#c8203a" stroke-width="0.9" />
<line x1="112.0" y1="234.7" x2="115.19999999999999" y2="234.7" stroke="#c8203a" stroke-width="0.9" />
<line x1="112.0" y1="239.0" x2="115.19999999999999" y2="239.0" stroke="#c8203a" stroke-width="0.9" />
<rect x="50.00" y="219.40" width="3.60" height="3.60" fill="#c8102e" />
<rect x="56.20" y="221.40" width="3.60" height="3.60" fill="#c8102e" />
<rect x="68.50" y="223.70" width="3.60" height="3.60" fill="#c8102e" />
<rect x="90.20" y="228.80" width="3.60" height="3.60" fill="#c8102e" />
<rect x="91.80" y="229.60" width="3.60" height="3.60" fill="#c8102e" />
<rect x="99.20" y="233.50" width="3.60" height="3.60" fill="#c8102e" />
<rect x="111.80" y="235.00" width="3.60" height="3.60" fill="#c8102e" />
<polyline points="46.3,218.4 52.3,228.8 58.5,233.4 70.3,240.0 84.8,245.2" fill="none" stroke="#1e3d6e" stroke-width="1.2"/>
<polyline points="91.2,248.5 94.2,253.9 100.7,261.6 113.6,267.3" fill="none" stroke="#1e3d6e" stroke-width="1.2"/>
<line x1="52.3" y1="225.2" x2="52.3" y2="233.6" stroke="#2a5488" stroke-width="1.0" />
<line x1="50.599999999999994" y1="225.2" x2="54.0" y2="225.2" stroke="#2a5488" stroke-width="1.0" />
<line x1="50.599999999999994" y1="233.6" x2="54.0" y2="233.6" stroke="#2a5488" stroke-width="1.0" />
<circle cx="52.3" cy="228.8" r="1.75" fill="#1e3d6e"/>
<line x1="58.5" y1="227.8" x2="58.5" y2="239.4" stroke="#2a5488" stroke-width="1.0" />
<line x1="56.8" y1="227.8" x2="60.2" y2="227.8" stroke="#2a5488" stroke-width="1.0" />
<line x1="56.8" y1="239.4" x2="60.2" y2="239.4" stroke="#2a5488" stroke-width="1.0" />
<circle cx="58.5" cy="233.4" r="1.75" fill="#1e3d6e"/>
<line x1="70.3" y1="235.3" x2="70.3" y2="245.5" stroke="#2a5488" stroke-width="1.0" />
<line x1="68.6" y1="235.3" x2="72.0" y2="235.3" stroke="#2a5488" stroke-width="1.0" />
<line x1="68.6" y1="245.5" x2="72.0" y2="245.5" stroke="#2a5488" stroke-width="1.0" />
<circle cx="70.3" cy="240.0" r="1.75" fill="#1e3d6e"/>
<line x1="91.2" y1="243.6" x2="91.2" y2="252.4" stroke="#2a5488" stroke-width="1.0" />
<line x1="89.5" y1="243.6" x2="92.9" y2="243.6" stroke="#2a5488" stroke-width="1.0" />
<line x1="89.5" y1="252.4" x2="92.9" y2="252.4" stroke="#2a5488" stroke-width="1.0" />
<circle cx="91.2" cy="248.5" r="1.75" fill="#1e3d6e"/>
<line x1="94.2" y1="250.3" x2="94.2" y2="259.2" stroke="#2a5488" stroke-width="1.0" />
<line x1="92.5" y1="250.3" x2="95.9" y2="250.3" stroke="#2a5488" stroke-width="1.0" />
<line x1="92.5" y1="259.2" x2="95.9" y2="259.2" stroke="#2a5488" stroke-width="1.0" />
<circle cx="94.2" cy="253.9" r="1.75" fill="#1e3d6e"/>
<line x1="100.7" y1="255.1" x2="100.7" y2="268.2" stroke="#2a5488" stroke-width="1.0" />
<line x1="99.0" y1="255.1" x2="102.4" y2="255.1" stroke="#2a5488" stroke-width="1.0" />
<line x1="99.0" y1="268.2" x2="102.4" y2="268.2" stroke="#2a5488" stroke-width="1.0" />
<circle cx="100.7" cy="261.6" r="1.75" fill="#1e3d6e"/>
<line x1="113.6" y1="260.5" x2="113.6" y2="273.6" stroke="#2a5488" stroke-width="1.0" />
<line x1="111.89999999999999" y1="260.5" x2="115.3" y2="260.5" stroke="#2a5488" stroke-width="1.0" />
<line x1="111.89999999999999" y1="273.6" x2="115.3" y2="273.6" stroke="#2a5488" stroke-width="1.0" />
<circle cx="113.6" cy="267.3" r="1.75" fill="#1e3d6e"/>
<rect x="44.5" y="216.6" width="3.6" height="3.6" fill="#2f2a45"/>
<line x1="118.6" y1="237.2" x2="118.6" y2="267.6" stroke="#7a7a7a" stroke-width="1.1" />
<polygon points="123.50,244.51 124.02,245.40 125.02,245.62 124.34,246.38 124.44,247.41 123.50,246.99 122.56,247.41 122.66,246.38 121.98,245.62 122.98,245.40" fill="#231f20"/>
<polygon points="123.50,248.74 124.02,249.63 125.02,249.84 124.34,250.61 124.44,251.63 123.50,251.22 122.56,251.63 122.66,250.61 121.98,249.84 122.98,249.63" fill="#231f20"/>
<polygon points="123.50,252.96 124.02,253.85 125.02,254.07 124.34,254.83 124.44,255.86 123.50,255.44 122.56,255.86 122.66,254.83 121.98,254.07 122.98,253.85" fill="#231f20"/>
<polygon points="123.50,257.19 124.02,258.08 125.02,258.29 124.34,259.06 124.44,260.08 123.50,259.67 122.56,260.08 122.66,259.06 121.98,258.29 122.98,258.08" fill="#231f20"/>
<text x="59.8" y="336.2" font-size="10.6" textLength="45.2" lengthAdjust="spacingAndGlyphs" >BCL2-i (nM)</text>
<text transform="translate(51.8,310.2) rotate(-45)" font-size="9.6" text-anchor="end" textLength="5.2" lengthAdjust="spacingAndGlyphs">0</text>
<text transform="translate(71.0,310.2) rotate(-45)" font-size="9.6" text-anchor="end" textLength="5.2" lengthAdjust="spacingAndGlyphs">5</text>
<text transform="translate(90.2,310.2) rotate(-45)" font-size="9.6" text-anchor="end" textLength="9.6" lengthAdjust="spacingAndGlyphs">10</text>
<text transform="translate(105.60000000000001,310.2) rotate(-45)" font-size="9.6" text-anchor="end" textLength="9.6" lengthAdjust="spacingAndGlyphs">50</text>
<text transform="translate(118.5,310.2) rotate(-45)" font-size="9.6" text-anchor="end" textLength="14.2" lengthAdjust="spacingAndGlyphs">100</text>
<line x1="155.5" y1="215.4" x2="155.5" y2="302.3" stroke="#231f20" stroke-width="1.2" />
<line x1="152.2" y1="218.4" x2="155.5" y2="218.4" stroke="#231f20" stroke-width="1" />
<text x="148.1" y="221.40" font-size="9.8" text-anchor="end" textLength="14.50" lengthAdjust="spacingAndGlyphs">100</text>
<line x1="152.2" y1="258.85" x2="155.5" y2="258.85" stroke="#231f20" stroke-width="1" />
<text x="148.1" y="261.85" font-size="9.8" text-anchor="end" textLength="10.40" lengthAdjust="spacingAndGlyphs">50</text>
<line x1="152.2" y1="299.3" x2="155.5" y2="299.3" stroke="#231f20" stroke-width="1" />
<text x="148.1" y="302.30" font-size="9.8" text-anchor="end" textLength="5.40" lengthAdjust="spacingAndGlyphs">0</text>
<line x1="155.0" y1="299.3" x2="192.4" y2="299.3" stroke="#231f20" stroke-width="1.15" />
<line x1="197.4" y1="299.3" x2="223.7" y2="299.3" stroke="#231f20" stroke-width="1.15" />
<polygon points="191.10000000000002,299.3 193.3,297.6 193.3,301.0" fill="#231f20"/>
<polygon points="199.1,299.3 196.9,297.6 196.9,301.0" fill="#231f20"/>
<line x1="174.2" y1="299.3" x2="174.2" y2="302.3" stroke="#231f20" stroke-width="1" />
<line x1="192.4" y1="299.3" x2="192.4" y2="302.3" stroke="#231f20" stroke-width="1" />
<line x1="207.7" y1="299.3" x2="207.7" y2="302.3" stroke="#231f20" stroke-width="1" />
<line x1="219.8" y1="299.3" x2="219.8" y2="302.3" stroke="#231f20" stroke-width="1" />
<text x="155.6" y="208.6" font-size="10.2" textLength="66.8" lengthAdjust="spacingAndGlyphs" >OAsls combo</text>
<line x1="155.5" y1="258.85" x2="222.6" y2="258.85" stroke="#3a3a3a" stroke-width="0.9" stroke-dasharray="1 1.1"/>
<polyline points="155.5,218.4 161.4,225.8 167.2,228.3 178.6,231.8 192.4,234.2" fill="none" stroke="#c8102e" stroke-width="1" stroke-dasharray="2.2 1.6"/>
<polyline points="198.3,235.0 201.4,241.6 207.7,248.8 219.5,252.0" fill="none" stroke="#c8102e" stroke-width="1" stroke-dasharray="2.2 1.6"/>
<line x1="161.4" y1="222.8" x2="161.4" y2="229" stroke="#c8203a" stroke-width="0.9" />
<line x1="159.8" y1="222.8" x2="163.0" y2="222.8" stroke="#c8203a" stroke-width="0.9" />
<line x1="159.8" y1="229" x2="163.0" y2="229" stroke="#c8203a" stroke-width="0.9" />
<line x1="167.2" y1="223.5" x2="167.2" y2="233.4" stroke="#c8203a" stroke-width="0.9" />
<line x1="165.6" y1="223.5" x2="168.79999999999998" y2="223.5" stroke="#c8203a" stroke-width="0.9" />
<line x1="165.6" y1="233.4" x2="168.79999999999998" y2="233.4" stroke="#c8203a" stroke-width="0.9" />
<line x1="178.6" y1="226.7" x2="178.6" y2="237.4" stroke="#c8203a" stroke-width="0.9" />
<line x1="177.0" y1="226.7" x2="180.2" y2="226.7" stroke="#c8203a" stroke-width="0.9" />
<line x1="177.0" y1="237.4" x2="180.2" y2="237.4" stroke="#c8203a" stroke-width="0.9" />
<line x1="198.3" y1="228" x2="198.3" y2="241.6" stroke="#c8203a" stroke-width="0.9" />
<line x1="196.70000000000002" y1="228" x2="199.9" y2="228" stroke="#c8203a" stroke-width="0.9" />
<line x1="196.70000000000002" y1="241.6" x2="199.9" y2="241.6" stroke="#c8203a" stroke-width="0.9" />
<line x1="201.4" y1="235" x2="201.4" y2="248" stroke="#c8203a" stroke-width="0.9" />
<line x1="199.8" y1="235" x2="203.0" y2="235" stroke="#c8203a" stroke-width="0.9" />
<line x1="199.8" y1="248" x2="203.0" y2="248" stroke="#c8203a" stroke-width="0.9" />
<line x1="207.7" y1="243.7" x2="207.7" y2="254" stroke="#c8203a" stroke-width="0.9" />
<line x1="206.1" y1="243.7" x2="209.29999999999998" y2="243.7" stroke="#c8203a" stroke-width="0.9" />
<line x1="206.1" y1="254" x2="209.29999999999998" y2="254" stroke="#c8203a" stroke-width="0.9" />
<line x1="219.5" y1="245.3" x2="219.5" y2="258.6" stroke="#c8203a" stroke-width="0.9" />
<line x1="217.9" y1="245.3" x2="221.1" y2="245.3" stroke="#c8203a" stroke-width="0.9" />
<line x1="217.9" y1="258.6" x2="221.1" y2="258.6" stroke="#c8203a" stroke-width="0.9" />
<rect x="159.60" y="224.00" width="3.60" height="3.60" fill="#c8102e" />
<rect x="165.40" y="226.50" width="3.60" height="3.60" fill="#c8102e" />
<rect x="176.80" y="230.00" width="3.60" height="3.60" fill="#c8102e" />
<rect x="196.50" y="233.20" width="3.60" height="3.60" fill="#c8102e" />
<rect x="199.60" y="239.80" width="3.60" height="3.60" fill="#c8102e" />
<rect x="205.90" y="247.00" width="3.60" height="3.60" fill="#c8102e" />
<rect x="217.70" y="250.20" width="3.60" height="3.60" fill="#c8102e" />
<polyline points="155.5,218.4 161.4,239.1 167.2,246.4 178.6,258.8 192.4,267.5" fill="none" stroke="#1e3d6e" stroke-width="1.2"/>
<polyline points="198.3,271.7 201.4,275.8 207.7,283.1 219.5,288.3" fill="none" stroke="#1e3d6e" stroke-width="1.2"/>
<line x1="161.4" y1="230.8" x2="161.4" y2="246.8" stroke="#2a5488" stroke-width="1.0" />
<line x1="159.70000000000002" y1="230.8" x2="163.1" y2="230.8" stroke="#2a5488" stroke-width="1.0" />
<line x1="159.70000000000002" y1="246.8" x2="163.1" y2="246.8" stroke="#2a5488" stroke-width="1.0" />
<circle cx="161.4" cy="239.1" r="1.75" fill="#1e3d6e"/>
<line x1="167.2" y1="238.5" x2="167.2" y2="256.1" stroke="#2a5488" stroke-width="1.0" />
<line x1="165.5" y1="238.5" x2="168.89999999999998" y2="238.5" stroke="#2a5488" stroke-width="1.0" />
<line x1="165.5" y1="256.1" x2="168.89999999999998" y2="256.1" stroke="#2a5488" stroke-width="1.0" />
<circle cx="167.2" cy="246.4" r="1.75" fill="#1e3d6e"/>
<line x1="178.6" y1="251.5" x2="178.6" y2="266.5" stroke="#2a5488" stroke-width="1.0" />
<line x1="176.9" y1="251.5" x2="180.29999999999998" y2="251.5" stroke="#2a5488" stroke-width="1.0" />
<line x1="176.9" y1="266.5" x2="180.29999999999998" y2="266.5" stroke="#2a5488" stroke-width="1.0" />
<circle cx="178.6" cy="258.8" r="1.75" fill="#1e3d6e"/>
<line x1="198.3" y1="264.4" x2="198.3" y2="279.3" stroke="#2a5488" stroke-width="1.0" />
<line x1="196.60000000000002" y1="264.4" x2="200.0" y2="264.4" stroke="#2a5488" stroke-width="1.0" />
<line x1="196.60000000000002" y1="279.3" x2="200.0" y2="279.3" stroke="#2a5488" stroke-width="1.0" />
<circle cx="198.3" cy="271.7" r="1.75" fill="#1e3d6e"/>
<line x1="201.4" y1="268" x2="201.4" y2="284" stroke="#2a5488" stroke-width="1.0" />
<line x1="199.70000000000002" y1="268" x2="203.1" y2="268" stroke="#2a5488" stroke-width="1.0" />
<line x1="199.70000000000002" y1="284" x2="203.1" y2="284" stroke="#2a5488" stroke-width="1.0" />
<circle cx="201.4" cy="275.8" r="1.75" fill="#1e3d6e"/>
<line x1="207.7" y1="277.9" x2="207.7" y2="287.2" stroke="#2a5488" stroke-width="1.0" />
<line x1="206.0" y1="277.9" x2="209.39999999999998" y2="277.9" stroke="#2a5488" stroke-width="1.0" />
<line x1="206.0" y1="287.2" x2="209.39999999999998" y2="287.2" stroke="#2a5488" stroke-width="1.0" />
<circle cx="207.7" cy="283.1" r="1.75" fill="#1e3d6e"/>
<line x1="219.5" y1="284.1" x2="219.5" y2="292.4" stroke="#2a5488" stroke-width="1.0" />
<line x1="217.8" y1="284.1" x2="221.2" y2="284.1" stroke="#2a5488" stroke-width="1.0" />
<line x1="217.8" y1="292.4" x2="221.2" y2="292.4" stroke="#2a5488" stroke-width="1.0" />
<circle cx="219.5" cy="288.3" r="1.75" fill="#1e3d6e"/>
<rect x="153.7" y="216.6" width="3.6" height="3.6" fill="#2f2a45"/>
<line x1="225.4" y1="252.6" x2="225.4" y2="289.2" stroke="#333" stroke-width="1.1" />
<polygon points="230.80,262.85 231.32,263.74 232.32,263.96 231.64,264.72 231.74,265.74 230.80,265.33 229.86,265.74 229.96,264.72 229.28,263.96 230.28,263.74" fill="#231f20"/>
<polygon points="230.80,267.15 231.32,268.04 232.32,268.26 231.64,269.02 231.74,270.04 230.80,269.63 229.86,270.04 229.96,269.02 229.28,268.26 230.28,268.04" fill="#231f20"/>
<polygon points="230.80,271.45 231.32,272.34 232.32,272.56 231.64,273.32 231.74,274.34 230.80,273.93 229.86,274.34 229.96,273.32 229.28,272.56 230.28,272.34" fill="#231f20"/>
<polygon points="230.80,275.75 231.32,276.64 232.32,276.86 231.64,277.62 231.74,278.64 230.80,278.23 229.86,278.64 229.96,277.62 229.28,276.86 230.28,276.64" fill="#231f20"/>
<text x="166.0" y="336.2" font-size="10.6" textLength="47.0" lengthAdjust="spacingAndGlyphs" >BCL2-i (nM)</text>
<text transform="translate(161.0,310.2) rotate(-45)" font-size="9.6" text-anchor="end" textLength="5.2" lengthAdjust="spacingAndGlyphs">0</text>
<text transform="translate(179.6,310.2) rotate(-45)" font-size="9.6" text-anchor="end" textLength="5.2" lengthAdjust="spacingAndGlyphs">5</text>
<text transform="translate(197.8,310.2) rotate(-45)" font-size="9.6" text-anchor="end" textLength="9.6" lengthAdjust="spacingAndGlyphs">10</text>
<text transform="translate(213.1,310.2) rotate(-45)" font-size="9.6" text-anchor="end" textLength="9.6" lengthAdjust="spacingAndGlyphs">50</text>
<text transform="translate(225.20000000000002,310.2) rotate(-45)" font-size="9.6" text-anchor="end" textLength="14.2" lengthAdjust="spacingAndGlyphs">100</text>
<text transform="translate(18,279.5) rotate(-90)" font-size="11.3" textLength="43.7" lengthAdjust="spacingAndGlyphs">% Live cells</text>
<circle cx="94.4" cy="346.9" r="1.5" fill="#1e3d6e"/>
<text x="100.2" y="349.6" font-size="9.0" textLength="31.3" lengthAdjust="spacingAndGlyphs" >Mino_ct</text>
<rect x="135.10" y="345.20" width="3.30" height="3.30" fill="#c8102e" />
<text x="142.5" y="349.6" font-size="9.0" textLength="34.6" lengthAdjust="spacingAndGlyphs" >Mino_A1</text>
<line x1="301.9" y1="215.6" x2="301.9" y2="299.8" stroke="#231f20" stroke-width="1.2" />
<line x1="298.59999999999997" y1="218.5" x2="301.9" y2="218.5" stroke="#231f20" stroke-width="1" />
<text x="294.7" y="221.20" font-size="9.0" text-anchor="end" textLength="14.50" lengthAdjust="spacingAndGlyphs">100</text>
<line x1="298.59999999999997" y1="234.66" x2="301.9" y2="234.66" stroke="#231f20" stroke-width="1" />
<text x="294.7" y="237.36" font-size="9.0" text-anchor="end" textLength="10.40" lengthAdjust="spacingAndGlyphs">80</text>
<line x1="298.59999999999997" y1="250.82" x2="301.9" y2="250.82" stroke="#231f20" stroke-width="1" />
<text x="294.7" y="253.52" font-size="9.0" text-anchor="end" textLength="10.40" lengthAdjust="spacingAndGlyphs">60</text>
<line x1="298.59999999999997" y1="266.98" x2="301.9" y2="266.98" stroke="#231f20" stroke-width="1" />
<text x="294.7" y="269.68" font-size="9.0" text-anchor="end" textLength="10.40" lengthAdjust="spacingAndGlyphs">40</text>
<line x1="298.59999999999997" y1="283.14" x2="301.9" y2="283.14" stroke="#231f20" stroke-width="1" />
<text x="294.7" y="285.84" font-size="9.0" text-anchor="end" textLength="10.40" lengthAdjust="spacingAndGlyphs">20</text>
<line x1="298.59999999999997" y1="299.3" x2="301.9" y2="299.3" stroke="#231f20" stroke-width="1" />
<text x="294.7" y="302.00" font-size="9.0" text-anchor="end" textLength="5.40" lengthAdjust="spacingAndGlyphs">0</text>
<line x1="301.4" y1="299.3" x2="377.6" y2="299.3" stroke="#231f20" stroke-width="1.15" />
<line x1="313.7" y1="299.3" x2="313.7" y2="302.3" stroke="#231f20" stroke-width="1" />
<line x1="339.4" y1="299.3" x2="339.4" y2="302.3" stroke="#231f20" stroke-width="1" />
<line x1="365.1" y1="299.3" x2="365.1" y2="302.3" stroke="#231f20" stroke-width="1" />
<line x1="301.9" y1="258.9" x2="378.5" y2="258.9" stroke="#666" stroke-width="0.9" stroke-dasharray="1 1.1"/>
<rect x="305.5" y="294.3" width="6.60" height="5.00" fill="#42ad4a" stroke="#2b7d33" stroke-width="0.6"/>
<line x1="308.8" y1="293.0" x2="308.8" y2="295.5" stroke="#2b7d33" stroke-width="1.0" />
<line x1="307.0" y1="293.0" x2="310.6" y2="293.0" stroke="#2b7d33" stroke-width="1.0" />
<line x1="307.0" y1="295.5" x2="310.6" y2="295.5" stroke="#2b7d33" stroke-width="1.0" />
<rect x="315.4" y="291.7" width="6.60" height="7.60" fill="#5c1f6e" stroke="#3a0d48" stroke-width="0.6"/>
<line x1="318.7" y1="290.6" x2="318.7" y2="292.8" stroke="#3a0d48" stroke-width="1.0" />
<line x1="316.9" y1="290.6" x2="320.5" y2="290.6" stroke="#3a0d48" stroke-width="1.0" />
<line x1="316.9" y1="292.8" x2="320.5" y2="292.8" stroke="#3a0d48" stroke-width="1.0" />
<rect x="331.9" y="288.4" width="6.30" height="10.90" fill="#42ad4a" stroke="#2b7d33" stroke-width="0.6"/>
<line x1="335.04999999999995" y1="284.7" x2="335.04999999999995" y2="292.0" stroke="#2b7d33" stroke-width="1.0" />
<line x1="333.24999999999994" y1="284.7" x2="336.84999999999997" y2="284.7" stroke="#2b7d33" stroke-width="1.0" />
<line x1="333.24999999999994" y1="292.0" x2="336.84999999999997" y2="292.0" stroke="#2b7d33" stroke-width="1.0" />
<rect x="341.4" y="269.0" width="6.30" height="30.30" fill="#5c1f6e" stroke="#3a0d48" stroke-width="0.6"/>
<line x1="344.54999999999995" y1="262.4" x2="344.54999999999995" y2="275.6" stroke="#3a0d48" stroke-width="1.0" />
<line x1="342.74999999999994" y1="262.4" x2="346.34999999999997" y2="262.4" stroke="#3a0d48" stroke-width="1.0" />
<line x1="342.74999999999994" y1="275.6" x2="346.34999999999997" y2="275.6" stroke="#3a0d48" stroke-width="1.0" />
<rect x="357.9" y="282.3" width="6.00" height="17.00" fill="#42ad4a" stroke="#2b7d33" stroke-width="0.6"/>
<line x1="360.9" y1="275.6" x2="360.9" y2="289.0" stroke="#2b7d33" stroke-width="1.0" />
<line x1="359.09999999999997" y1="275.6" x2="362.7" y2="275.6" stroke="#2b7d33" stroke-width="1.0" />
<line x1="359.09999999999997" y1="289.0" x2="362.7" y2="289.0" stroke="#2b7d33" stroke-width="1.0" />
<rect x="367.2" y="261.1" width="6.60" height="38.20" fill="#5c1f6e" stroke="#3a0d48" stroke-width="0.6"/>
<line x1="370.5" y1="255.3" x2="370.5" y2="266.0" stroke="#3a0d48" stroke-width="1.0" />
<line x1="368.7" y1="255.3" x2="372.3" y2="255.3" stroke="#3a0d48" stroke-width="1.0" />
<line x1="368.7" y1="266.0" x2="372.3" y2="266.0" stroke="#3a0d48" stroke-width="1.0" />
<text x="299.8" y="195.5" font-size="10.2" textLength="79.4" lengthAdjust="spacingAndGlyphs" >BCL2-i sensitive</text>
<text x="323.8" y="208" font-size="10.2" textLength="32.4" lengthAdjust="spacingAndGlyphs" >(Mino)</text>
<line x1="334.1" y1="252.5" x2="345.2" y2="252.5" stroke="#231f20" stroke-width="1.1" />
<polygon points="335.95,246.45 336.48,247.37 337.52,247.59 336.81,248.38 336.92,249.43 335.95,249.01 334.98,249.43 335.09,248.38 334.38,247.59 335.42,247.37" fill="#231f20"/>
<polygon points="339.65,246.45 340.18,247.37 341.22,247.59 340.51,248.38 340.62,249.43 339.65,249.01 338.68,249.43 338.79,248.38 338.08,247.59 339.12,247.37" fill="#231f20"/>
<polygon points="343.35,246.45 343.88,247.37 344.92,247.59 344.21,248.38 344.32,249.43 343.35,249.01 342.38,249.43 342.49,248.38 341.78,247.59 342.82,247.37" fill="#231f20"/>
<line x1="359.3" y1="252.5" x2="370.8" y2="252.5" stroke="#231f20" stroke-width="1.1" />
<polygon points="361.22,246.45 361.75,247.37 362.79,247.59 362.08,248.38 362.19,249.43 361.22,249.01 360.25,249.43 360.35,248.38 359.65,247.59 360.68,247.37" fill="#231f20"/>
<polygon points="365.05,246.45 365.58,247.37 366.62,247.59 365.91,248.38 366.02,249.43 365.05,249.01 364.08,249.43 364.19,248.38 363.48,247.59 364.52,247.37" fill="#231f20"/>
<polygon points="368.88,246.45 369.42,247.37 370.45,247.59 369.75,248.38 369.85,249.43 368.88,249.01 367.91,249.43 368.02,248.38 367.31,247.59 368.35,247.37" fill="#231f20"/>
<line x1="422.6" y1="215.6" x2="422.6" y2="299.8" stroke="#231f20" stroke-width="1.2" />
<line x1="419.3" y1="218.5" x2="422.6" y2="218.5" stroke="#231f20" stroke-width="1" />
<text x="415.40000000000003" y="221.20" font-size="9.0" text-anchor="end" textLength="14.50" lengthAdjust="spacingAndGlyphs">100</text>
<line x1="419.3" y1="234.66" x2="422.6" y2="234.66" stroke="#231f20" stroke-width="1" />
<text x="415.40000000000003" y="237.36" font-size="9.0" text-anchor="end" textLength="10.40" lengthAdjust="spacingAndGlyphs">80</text>
<line x1="419.3" y1="250.82" x2="422.6" y2="250.82" stroke="#231f20" stroke-width="1" />
<text x="415.40000000000003" y="253.52" font-size="9.0" text-anchor="end" textLength="10.40" lengthAdjust="spacingAndGlyphs">60</text>
<line x1="419.3" y1="266.98" x2="422.6" y2="266.98" stroke="#231f20" stroke-width="1" />
<text x="415.40000000000003" y="269.68" font-size="9.0" text-anchor="end" textLength="10.40" lengthAdjust="spacingAndGlyphs">40</text>
<line x1="419.3" y1="283.14" x2="422.6" y2="283.14" stroke="#231f20" stroke-width="1" />
<text x="415.40000000000003" y="285.84" font-size="9.0" text-anchor="end" textLength="10.40" lengthAdjust="spacingAndGlyphs">20</text>
<line x1="419.3" y1="299.3" x2="422.6" y2="299.3" stroke="#231f20" stroke-width="1" />
<text x="415.40000000000003" y="302.00" font-size="9.0" text-anchor="end" textLength="5.40" lengthAdjust="spacingAndGlyphs">0</text>
<line x1="422.1" y1="299.3" x2="499.5" y2="299.3" stroke="#231f20" stroke-width="1.15" />
<line x1="434.1" y1="299.3" x2="434.1" y2="302.3" stroke="#231f20" stroke-width="1" />
<line x1="460.6" y1="299.3" x2="460.6" y2="302.3" stroke="#231f20" stroke-width="1" />
<line x1="487.0" y1="299.3" x2="487.0" y2="302.3" stroke="#231f20" stroke-width="1" />
<line x1="422.6" y1="258.9" x2="497.8" y2="258.9" stroke="#666" stroke-width="0.9" stroke-dasharray="1 1.1"/>
<rect x="426.3" y="288.4" width="6.10" height="10.90" fill="#42ad4a" stroke="#2b7d33" stroke-width="0.6"/>
<line x1="429.35" y1="286.4" x2="429.35" y2="290.4" stroke="#2b7d33" stroke-width="1.0" />
<line x1="427.55" y1="286.4" x2="431.15000000000003" y2="286.4" stroke="#2b7d33" stroke-width="1.0" />
<line x1="427.55" y1="290.4" x2="431.15000000000003" y2="290.4" stroke="#2b7d33" stroke-width="1.0" />
<rect x="435.7" y="282.7" width="6.70" height="16.60" fill="#5c1f6e" stroke="#3a0d48" stroke-width="0.6"/>
<line x1="439.04999999999995" y1="278.9" x2="439.04999999999995" y2="286.5" stroke="#3a0d48" stroke-width="1.0" />
<line x1="437.24999999999994" y1="278.9" x2="440.84999999999997" y2="278.9" stroke="#3a0d48" stroke-width="1.0" />
<line x1="437.24999999999994" y1="286.5" x2="440.84999999999997" y2="286.5" stroke="#3a0d48" stroke-width="1.0" />
<rect x="452.3" y="287.2" width="6.10" height="12.10" fill="#42ad4a" stroke="#2b7d33" stroke-width="0.6"/>
<line x1="455.35" y1="285.6" x2="455.35" y2="288.8" stroke="#2b7d33" stroke-width="1.0" />
<line x1="453.55" y1="285.6" x2="457.15000000000003" y2="285.6" stroke="#2b7d33" stroke-width="1.0" />
<line x1="453.55" y1="288.8" x2="457.15000000000003" y2="288.8" stroke="#2b7d33" stroke-width="1.0" />
<rect x="461.7" y="278.9" width="6.60" height="20.40" fill="#5c1f6e" stroke="#3a0d48" stroke-width="0.6"/>
<line x1="465.0" y1="275.6" x2="465.0" y2="282.2" stroke="#3a0d48" stroke-width="1.0" />
<line x1="463.2" y1="275.6" x2="466.8" y2="275.6" stroke="#3a0d48" stroke-width="1.0" />
<line x1="463.2" y1="282.2" x2="466.8" y2="282.2" stroke="#3a0d48" stroke-width="1.0" />
<rect x="477.9" y="274.8" width="6.70" height="24.50" fill="#42ad4a" stroke="#2b7d33" stroke-width="0.6"/>
<line x1="481.25" y1="269.5" x2="481.25" y2="280.1" stroke="#2b7d33" stroke-width="1.0" />
<line x1="479.45" y1="269.5" x2="483.05" y2="269.5" stroke="#2b7d33" stroke-width="1.0" />
<line x1="479.45" y1="280.1" x2="483.05" y2="280.1" stroke="#2b7d33" stroke-width="1.0" />
<rect x="488.2" y="229.1" width="6.60" height="70.20" fill="#5c1f6e" stroke="#3a0d48" stroke-width="0.6"/>
<line x1="491.5" y1="226.3" x2="491.5" y2="232.0" stroke="#3a0d48" stroke-width="1.0" />
<line x1="489.7" y1="226.3" x2="493.3" y2="226.3" stroke="#3a0d48" stroke-width="1.0" />
<line x1="489.7" y1="232.0" x2="493.3" y2="232.0" stroke="#3a0d48" stroke-width="1.0" />
<text x="420.8" y="195.5" font-size="10.2" textLength="78.6" lengthAdjust="spacingAndGlyphs" >BCL2-i resistant</text>
<text x="444.6" y="208" font-size="10.2" textLength="31.6" lengthAdjust="spacingAndGlyphs" >(SP53)</text>
<line x1="481.3" y1="220.4" x2="492.6" y2="220.4" stroke="#231f20" stroke-width="1.1" />
<polygon points="483.18,214.35 483.72,215.27 484.75,215.49 484.05,216.28 484.15,217.33 483.18,216.91 482.21,217.33 482.32,216.28 481.61,215.49 482.65,215.27" fill="#231f20"/>
<polygon points="486.95,214.35 487.48,215.27 488.52,215.49 487.81,216.28 487.92,217.33 486.95,216.91 485.98,217.33 486.09,216.28 485.38,215.49 486.42,215.27" fill="#231f20"/>
<polygon points="490.72,214.35 491.25,215.27 492.29,215.49 491.58,216.28 491.69,217.33 490.72,216.91 489.75,217.33 489.85,216.28 489.15,215.49 490.18,215.27" fill="#231f20"/>
<text transform="translate(258.3,292) rotate(-90)" font-size="9.7" textLength="77" lengthAdjust="spacingAndGlyphs">% Of cytochromeC</text>
<text transform="translate(274.1,272.4) rotate(-90)" font-size="9.2" textLength="29.6" lengthAdjust="spacingAndGlyphs">release</text>
<text x="272.8" y="314.1" font-size="9.3" textLength="16.3" lengthAdjust="spacingAndGlyphs" >Pre-</text>
<text x="260.8" y="325.5" font-size="9.3" textLength="41" lengthAdjust="spacingAndGlyphs" >treatment</text>
<text x="398.8" y="314.1" font-size="9.3" textLength="16.3" lengthAdjust="spacingAndGlyphs" >Pre-</text>
<text x="386.3" y="325.5" font-size="9.3" textLength="41" lengthAdjust="spacingAndGlyphs" >treatment</text>
<text x="313" y="314" font-size="8.8" text-anchor="middle" >-</text>
<text x="432.5" y="314" font-size="8.8" text-anchor="middle" >-</text>
<text x="330" y="314" font-size="9.3" textLength="18.8" lengthAdjust="spacingAndGlyphs" >5nM</text>
<text x="353.8" y="314" font-size="9.3" textLength="23.7" lengthAdjust="spacingAndGlyphs" >50nM</text>
<line x1="328.8" y1="320.5" x2="377.5" y2="320.5" stroke="#231f20" stroke-width="1" />
<text x="341.3" y="332" font-size="9.3" textLength="26.2" lengthAdjust="spacingAndGlyphs" >BCL2-i</text>
<text x="446.3" y="314" font-size="9.3" textLength="27.5" lengthAdjust="spacingAndGlyphs" >BCL2-i</text>
<text x="481.3" y="314" font-size="9.3" textLength="27.5" lengthAdjust="spacingAndGlyphs" >BCL2-i</text>
<text x="481.3" y="325.6" font-size="9.3" textLength="28.7" lengthAdjust="spacingAndGlyphs" >MCL1-i</text>
<text x="481.3" y="336.9" font-size="9.3" textLength="31.2" lengthAdjust="spacingAndGlyphs" >BCLxL-i</text>
<rect x="363.3" y="346" width="10.5" height="5.9" fill="#42ad4a" stroke="#2b7d33" stroke-width="0.6"/>
<text x="378" y="351.9" font-size="8.8" text-anchor="middle" >-</text>
<rect x="383.8" y="346" width="10.2" height="5.9" fill="#5c1f6e" stroke="#3a0d48" stroke-width="0.6"/>
<text x="397.5" y="351.9" font-size="8.8" textLength="39.4" lengthAdjust="spacingAndGlyphs" >FS2 20µM</text>
<rect x="0.5" y="0.5" width="519" height="361" fill="none" stroke="#4b4b4b" stroke-width="1"/>
</svg></body></html>
